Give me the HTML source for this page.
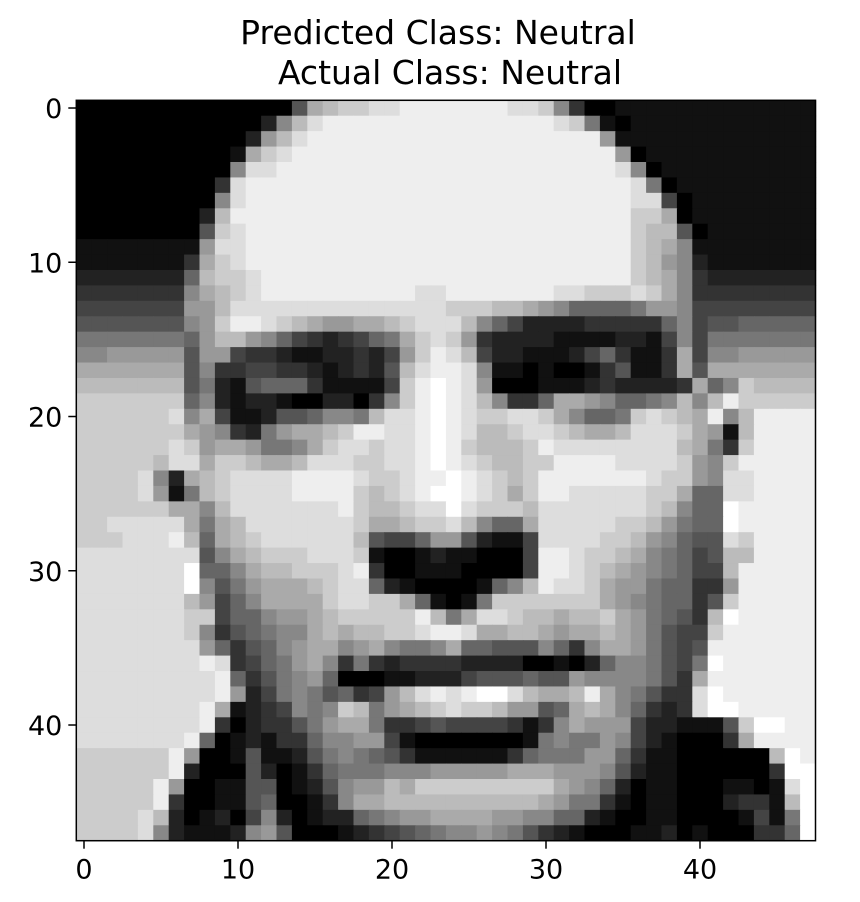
<!DOCTYPE html>
<html>
<head>
<meta charset="utf-8">
<style>
  html,body{margin:0;padding:0;background:#fff;}
  svg{display:block;}
  text{font-family:"DejaVu Sans","Liberation Sans",sans-serif;fill:#000;}
</style>
</head>
<body>
<svg id="chart" width="860" height="902" viewBox="0 0 860 902" xmlns="http://www.w3.org/2000/svg">
  <text x="438" y="44" font-size="33" text-anchor="middle">Predicted Class: Neutral</text>
  <text x="450" y="84" font-size="33" text-anchor="middle">Actual Class: Neutral</text>
  <g id="cells"></g>
  <g id="axes"></g>
</svg>
<script>
// Pixel intensities (hex 0=black .. f=white), 48 rows x 48 columns
const pixelRows = [
"000000000000005abccddeee"+"eeeeddc83001111111111111",
"00000000000028bdeeeeeeee"+"eeeeeeedc710111111111111",
"0000000000029bdeeeeeeeee"+"eeeeeeeeee91111111111111",
"00000000001acdeeeeeeeeee"+"eeeeeeeeeee9011111111111",
"00000000008ddeeeeeeeeeee"+"eeeeeeeeeeed801111111111",
"0000000003deeeeeeeeeeeee"+"eeeeeeeeeeeed70111111111",
"0000000008deeeeeeeeeeeee"+"eeeeeeeeeeeedd4011111111",
"000000002beeeeeeeeeeeeee"+"eeeeeeeeeeeecca011111111",
"000000005cdeeeeeeeeeeeee"+"eeeeeeeeeeeecbb501111111",
"111111119ddeeeeeeeeeeeee"+"eeeeeeeeeeeecba811111111",
"11111113acdeeeeeeeeeeeee"+"eeeeeeeeeeeecb9821111111",
"22222226bccdeeeeeeeeeeee"+"eeeeeeeeeeeecba832222222",
"33333338abcdeeeeeeeeeedd"+"eeeeeeeddcccdca833333333",
"444444499bdddddddddddddd"+"cccbba986666799844444444",
"555555589ceedcba99aabcdd"+"db8642222333336845566666",
"777777769bb9864323467acd"+"c93222211112214847777777",
"8899999599433211223249ce"+"db4221112463113a48899999",
"aaaaaaa58334433212325bde"+"ed8110100135113a5aaaaaaa",
"bbbbbbb57215666311114cef"+"ed90001112322223a68cbbbb",
"ccccccc68212210022038cef"+"edb8336aa986678b8beccccc",
"ccccccd8a4112556887bddef"+"edccddca8667cdcbae8beeee",
"ccccccca983279aabceeddef"+"edbbcddcbaabdddca91beeee",
"ccccccdc9aa9778acddcddef"+"ecbbbceddddddddba73ceeee",
"cccccbddaccbaabdddccddef"+"edcbbcceeeeddddc98ceeeee",
"ccccd82abcddddeeeedccdee"+"fedcbceeeeeeedcc98ddeeee",
"ccccd917bcddddeeeecbcdef"+"fedcaceedddddcca66ddeeee",
"ccccccaa8bdddddddecbbcdd"+"fdcccbdddddddcb866feeeee",
"ccddddda7abdddddddcaabcc"+"db866adddddccb9766feeeee",
"cccdddeb6abcddddddb54469"+"952114ddddccb98655dceeee",
"dddddddd58abcccdddc10012"+"110004eedccba87645bbeeee",
"dddddddf668abbcccde30011"+"100004eedcba987644beeeee",
"dddddddf8579aaabcdd62100"+"00168beddca99766339eeeee",
"dddddddb9468aaaacddcca61"+"017ccccccca9876635ceeeee",
"dddddddcc466899abccccceb"+"7addcbbabbca97653bfeeeee",
"dddddddc8356788ababbccde"+"edaabba9aaba97544ceeeeee",
"dddddddd9635689aa89a8778"+"a665558638aa97545eeeeeee",
"dddddddded34679a83732333"+"32222001026887547feeeeee",
"ddddddddde63578960001122"+"2455565598888753aeeeeeee",
"ddddddddde92478756349bde"+"deffdbaabea87533dfeeeeee",
"ddddddddea1234878cb79abc"+"dccb9956aba86323dffeeeee",
"dddddddde30233579aa73345"+"44443138a9994221115cffee",
"ddddddde6012133688994100"+"0000017877984210003aeeee",
"cccccce90015112578765311"+"111136777996311000000bfe",
"cccccce20005201367778889"+"9999aaa999852110000003ff",
"ccccce90011550125899bacc"+"ccccccca98620110001101df",
"ccccce300115600138aabbbb"+"bbbbbba977310110002331bf",
"ccccdb20120482012267899a"+"aaa99886621001100001417f",
"ccccd8211128950001234567"+"889875321000112010003 36f"
];
const xTickValues = [0, 10, 20, 30, 40];
const yTickValues = [0, 10, 20, 30, 40];

(function(){
const NS = "http://www.w3.org/2000/svg";
const nCols = 48, nRows = pixelRows.length;
const axLeft = 76.3, axRight = 815.5, axTop = 100.3, axBottom = 840.7;
const cw = (axRight - axLeft) / nCols, ch = (axBottom - axTop) / nRows;
function xScale(i){ return axLeft + i * cw; }
function yScale(j){ return axTop + j * ch; }

const cells = document.getElementById('cells');
for (let r = 0; r < nRows; r++) {
  let row = pixelRows[r].replace(/[^0-9a-f]/g, '');
  while (row.length < nCols) row += row[row.length - 1];
  for (let c = 0; c < nCols; c++) {
    const v = parseInt(row[c], 16) * 17;
    const rect = document.createElementNS(NS, 'rect');
    rect.setAttribute('x', xScale(c).toFixed(2));
    rect.setAttribute('y', yScale(r).toFixed(2));
    rect.setAttribute('width', (cw + 0.6).toFixed(2));
    rect.setAttribute('height', (ch + 0.6).toFixed(2));
    rect.setAttribute('fill', `rgb(${v},${v},${v})`);
    
    
    cells.appendChild(rect);
  }
}

const axes = document.getElementById('axes');
const frame = document.createElementNS(NS, 'rect');
frame.setAttribute('x', axLeft); frame.setAttribute('y', axTop);
frame.setAttribute('width', axRight - axLeft); frame.setAttribute('height', axBottom - axTop);
frame.setAttribute('fill', 'none'); frame.setAttribute('stroke', '#000'); frame.setAttribute('stroke-width', '1.5');


axes.appendChild(frame);

xTickValues.forEach(t => {
  const x = xScale(t + 0.5);
  const ln = document.createElementNS(NS, 'line');
  ln.setAttribute('x1', x); ln.setAttribute('x2', x);
  ln.setAttribute('y1', axBottom); ln.setAttribute('y2', axBottom + 8);
  ln.setAttribute('stroke', '#000'); ln.setAttribute('stroke-width', '1.5');
  
  
  axes.appendChild(ln);
  const tx = document.createElementNS(NS, 'text');
  tx.setAttribute('x', x); tx.setAttribute('y', axBottom + 38);
  tx.setAttribute('font-size', '27'); tx.setAttribute('text-anchor', 'middle');
  tx.textContent = t;
  
  
  axes.appendChild(tx);
});
yTickValues.forEach(t => {
  const y = yScale(t + 0.5);
  const ln = document.createElementNS(NS, 'line');
  ln.setAttribute('x1', axLeft - 8); ln.setAttribute('x2', axLeft);
  ln.setAttribute('y1', y); ln.setAttribute('y2', y);
  ln.setAttribute('stroke', '#000'); ln.setAttribute('stroke-width', '1.5');
  
  
  axes.appendChild(ln);
  const tx = document.createElementNS(NS, 'text');
  tx.setAttribute('x', axLeft - 14); tx.setAttribute('y', y + 10);
  tx.setAttribute('font-size', '27'); tx.setAttribute('text-anchor', 'end');
  tx.textContent = t;
  
  
  axes.appendChild(tx);
});
})();
</script>
</body>
</html>
